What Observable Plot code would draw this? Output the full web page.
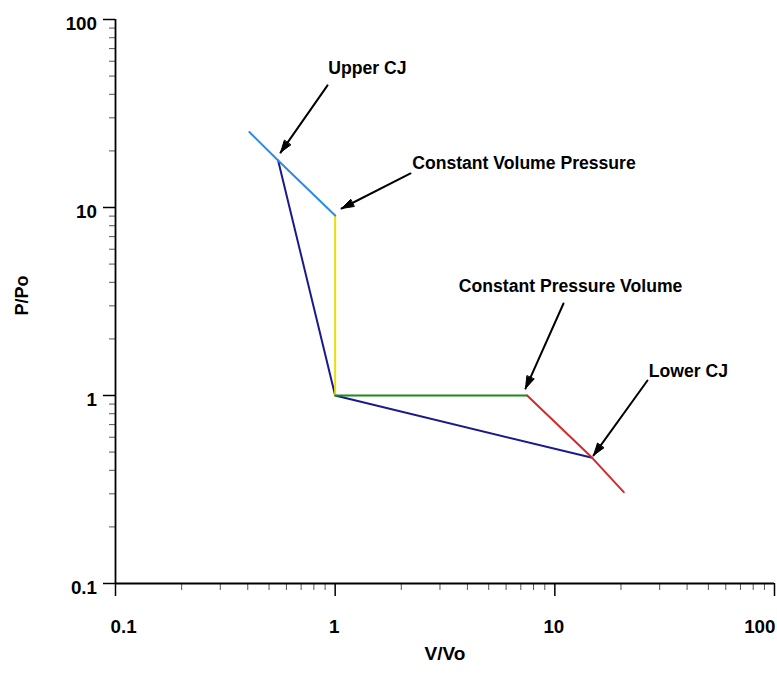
<!DOCTYPE html>
<html>
<head>
<meta charset="utf-8">
<script src="https://cdn.jsdelivr.net/npm/d3@7"></script>
<script src="https://cdn.jsdelivr.net/npm/@observablehq/plot@0.6"></script>
<style>
  html, body { margin: 0; padding: 0; background: #fff; }
</style>
</head>
<body>
<div id="chart"></div>
<script>
// ---- axis configuration ----
const majorTicks = [0.1, 1, 10, 100];
const majorTickLabels = ["0.1", "1", "10", "100"];
const minorTicks = [0.2, 0.3, 0.4, 0.5, 0.6, 0.7, 0.8, 0.9,
                    2, 3, 4, 5, 6, 7, 8, 9,
                    20, 30, 40, 50, 60, 70, 80, 90];
const xTitle = "V/Vo";
const yTitle = "P/Po";

// ---- series (V/Vo, P/Po) ----
const upperBranchV = [0.407, 0.55, 1.0];
const upperBranchP = [25.2, 17.8, 9.07];
const constVolumeV = [1.0, 1.0];
const constVolumeP = [9.07, 1.0];
const rayleighV = [0.55, 1.0, 14.79];
const rayleighP = [17.8, 1.0, 0.466];
const constPressureV = [1.0, 7.48];
const constPressureP = [1.0, 1.0];
const lowerBranchV = [7.48, 14.79, 20.6];
const lowerBranchP = [1.0, 0.466, 0.306];

// ---- annotations ----
const annotationLabels = ["Upper CJ", "Constant Volume Pressure", "Constant Pressure Volume", "Lower CJ"];
const labelV = [0.930, 2.242, 3.654, 26.77];
const labelP = [51.4, 15.93, 3.544, 1.251];
const arrowFromV = [0.923, 2.203, 10.95, 26.41];
const arrowFromP = [44.6, 15.17, 3.086, 1.202];
const arrowToV = [0.564, 1.069, 7.353, 15.0];
const arrowToP = [19.6, 9.88, 1.089, 0.480];

// ---- build tables ----
const toRows = (V, P) => V.map((v, i) => ({v, p: P[i]}));
const series = [
  {rows: toRows(rayleighV, rayleighP), color: "#1a1a8a"},
  {rows: toRows(constVolumeV, constVolumeP), color: "#e8e000"},
  {rows: toRows(constPressureV, constPressureP), color: "#1a8c1a"},
  {rows: toRows(upperBranchV, upperBranchP), color: "#2b8be6"},
  {rows: toRows(lowerBranchV, lowerBranchP), color: "#d42a2a"}
];
const annotations = annotationLabels.map((label, i) => ({
  label, lv: labelV[i], lp: labelP[i],
  x1: arrowFromV[i], y1: arrowFromP[i], x2: arrowToV[i], y2: arrowToP[i]
}));
const tickLabelRows = majorTicks.map((value, i) => ({value, label: majorTickLabels[i]}));

const font = "'Liberation Sans', Arial, Helvetica, sans-serif";
const W = 777, H = 675, ML = 115, MR = 3, MT = 19, MB = 92;
const FW = W - ML - MR, FH = H - MT - MB;

const chart = Plot.plot({
  width: W,
  height: H,
  marginLeft: ML,
  marginRight: MR,
  marginTop: MT,
  marginBottom: MB,
  x: {type: "log", domain: [0.1, 100], axis: null},
  y: {type: "log", domain: [0.1, 100], axis: null},
  style: {fontFamily: font, background: "white", color: "black"},
  marks: [
    // y ticks (outside, to the left)
    Plot.tickY(minorTicks, {y: d => d, insetRight: FW - 6, dx: -6, stroke: "#555", strokeWidth: 1}),
    Plot.tickY(majorTicks, {y: d => d, insetRight: FW - 12, dx: -12, stroke: "black", strokeWidth: 1.5}),
    // x ticks (outside, below)
    Plot.tickX(minorTicks, {x: d => d, insetTop: FH - 7, dy: 7, stroke: "#555", strokeWidth: 1}),
    Plot.tickX(majorTicks, {x: d => d, insetTop: FH - 13, dy: 13, stroke: "black", strokeWidth: 1.5}),
    Plot.ruleX([0.1], {stroke: "black", strokeWidth: 1.8}),
    Plot.ruleY([0.1], {stroke: "black", strokeWidth: 1.8}),
    ...series.map(s => Plot.line(s.rows, {x: "v", y: "p", stroke: s.color, strokeWidth: 2})),
    Plot.arrow(annotations, {
      x1: "x1", y1: "y1", x2: "x2", y2: "y2",
      stroke: "black", strokeWidth: 2, headLength: 9.5, headAngle: 36
    }),
    Plot.text(annotations, {
      x: "lv", y: "lp", text: "label", textAnchor: "start", lineAnchor: "bottom",
      fontSize: 17.6, fontWeight: "bold", fill: "black", ariaLabel: "annot"
    }),
    // y tick labels
    Plot.text(tickLabelRows, {
      y: "value", text: "label", frameAnchor: "left", dx: -18.5, dy: 4,
      textAnchor: "end", lineAnchor: "middle", fontSize: 18.8, fontWeight: "bold",
      fill: "black", ariaLabel: "ticklab"
    }),
    // x tick labels
    Plot.text(tickLabelRows.slice(0, 1), {
      x: "value", text: "label", frameAnchor: "bottom", dx: -5, dy: 43,
      textAnchor: "start", lineAnchor: "middle", fontSize: 18.8, fontWeight: "bold",
      fill: "black", ariaLabel: "ticklab"
    }),
    Plot.text(tickLabelRows.slice(1, 3), {
      x: "value", text: "label", frameAnchor: "bottom", dx: -1, dy: 43,
      textAnchor: "middle", lineAnchor: "middle", fontSize: 18.8, fontWeight: "bold",
      fill: "black", ariaLabel: "ticklab"
    }),
    Plot.text(tickLabelRows.slice(3), {
      x: "value", text: "label", frameAnchor: "bottom", dx: 1, dy: 43,
      textAnchor: "end", lineAnchor: "middle", fontSize: 18.8, fontWeight: "bold",
      fill: "black", ariaLabel: "ticklab"
    }),
    // axis titles
    Plot.text([xTitle], {
      frameAnchor: "bottom", dy: 70, textAnchor: "middle", lineAnchor: "middle",
      fontSize: 19, fontWeight: "bold", fill: "black", ariaLabel: "xtitle"
    }),
    Plot.text([yTitle], {
      frameAnchor: "left", dx: -93, dy: -6, rotate: -90, textAnchor: "middle", lineAnchor: "middle",
      fontSize: 18, fontWeight: "bold", fill: "black", ariaLabel: "ytitle"
    })
  ]
});

// vertical stretch of text (the reference's glyphs are tall and narrow)
function stretchTexts(root, label, s) {
  root.querySelectorAll(`g[aria-label="${label}"] text`).forEach(t => {
    let tr = t.getAttribute("transform") || "";
    const x = t.getAttribute("x"), y = t.getAttribute("y");
    if (x != null || y != null) {
      tr = `translate(${x || 0},${y || 0}) ` + tr;
      t.removeAttribute("x");
      t.removeAttribute("y");
    }
    if (/rotate/.test(tr)) tr = tr.replace(/rotate/, `scale(1,${s}) rotate`);
    else tr = tr + ` scale(1,${s})`;
    t.setAttribute("transform", tr);
  });
}
stretchTexts(chart, "ticklab", 1.35);
stretchTexts(chart, "annot", 1.08);
stretchTexts(chart, "xtitle", 1.2);
stretchTexts(chart, "ytitle", 1.17);

// solid arrowheads
chart.querySelectorAll('g[aria-label="arrow"] path').forEach(p => {
  const d = p.getAttribute("d");
  const k = d.indexOf("M", 1);
  if (k < 0) return;
  p.setAttribute("d", d.slice(0, k));
  const h = document.createElementNS("http://www.w3.org/2000/svg", "path");
  h.setAttribute("d", d.slice(k) + "Z");
  h.setAttribute("fill", "black");
  h.setAttribute("stroke", "black");
  h.setAttribute("stroke-width", "1");
  p.parentNode.appendChild(h);
});

document.getElementById("chart").appendChild(chart);
</script>
</body>
</html>
